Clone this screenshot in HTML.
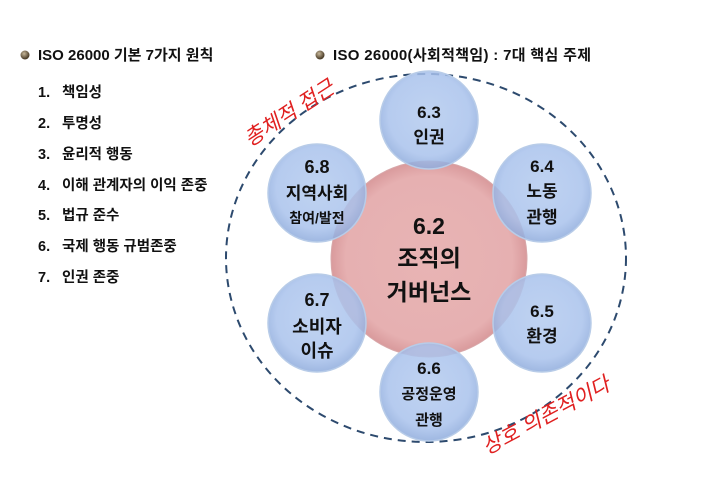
<!DOCTYPE html>
<html><head><meta charset="utf-8"><style>
body{margin:0;width:703px;height:485px;background:#fff;overflow:hidden;font-family:"Liberation Sans","Noto Sans CJK KR",sans-serif}
</style></head><body>
<svg width="703" height="485" xmlns="http://www.w3.org/2000/svg" font-family="Liberation Sans, Noto Sans CJK KR, sans-serif">
<defs>
<radialGradient id="b" cx="50%" cy="45%" r="55%"><stop offset="0" stop-color="#b4cbef"/><stop offset="0.75" stop-color="#a9c2ec"/><stop offset="1" stop-color="#8eabdc"/></radialGradient>
<radialGradient id="p" cx="50%" cy="50%" r="50%"><stop offset="0" stop-color="#e8b4b4"/><stop offset="0.85" stop-color="#e6b0b1"/><stop offset="1" stop-color="#d99a9c"/></radialGradient>
<radialGradient id="dot" cx="40%" cy="35%" r="60%"><stop offset="0" stop-color="#c8b89a"/><stop offset="1" stop-color="#4a3c28"/></radialGradient>
</defs>
<circle cx="25" cy="55" r="4.5" fill="url(#dot)"/>
<text x="38" y="60" font-size="15" font-weight="bold" fill="#111">ISO 26000 기본 7가지 원칙</text>
<circle cx="320" cy="55" r="4.5" fill="url(#dot)"/>
<text x="333" y="60" font-size="15" font-weight="bold" fill="#111" textLength="258">ISO 26000(사회적책임) : 7대 핵심 주제</text>
<g font-size="14.5" font-weight="bold" fill="#111">
<text x="38" y="97">1.</text><text x="62" y="97">책임성</text>
<text x="38" y="128">2.</text><text x="62" y="128">투명성</text>
<text x="38" y="159">3.</text><text x="62" y="159">윤리적 행동</text>
<text x="38" y="190">4.</text><text x="62" y="190">이해 관계자의 이익 존중</text>
<text x="38" y="220">5.</text><text x="62" y="220">법규 준수</text>
<text x="38" y="251">6.</text><text x="62" y="251">국제 행동 규범존중</text>
<text x="38" y="282">7.</text><text x="62" y="282">인권 존중</text>
</g>
<ellipse cx="426" cy="258" rx="200" ry="184" fill="none" stroke="#2d4a6e" stroke-width="2" stroke-dasharray="8,6"/>
<circle cx="429" cy="259" r="98" fill="url(#p)" stroke="#d8a8aa" stroke-width="1"/>
<g fill="url(#b)" fill-opacity="0.85" stroke="#b8cce8" stroke-width="1.5">
<circle cx="429" cy="120" r="49"/>
<circle cx="542" cy="193" r="49"/>
<circle cx="542" cy="323" r="49"/>
<circle cx="429" cy="392" r="49"/>
<circle cx="317" cy="323" r="49"/>
<circle cx="317" cy="193" r="49"/>
</g>
<g font-weight="bold" fill="#111" text-anchor="middle">
<text x="429" y="234" font-size="23">6.2</text>
<text x="429" y="266" font-size="23">조직의</text>
<text x="429" y="300" font-size="23">거버넌스</text>
<text x="429" y="118" font-size="17">6.3</text><text x="429" y="143" font-size="17">인권</text>
<text x="542" y="172" font-size="17">6.4</text><text x="542" y="197" font-size="17">노동</text><text x="542" y="223" font-size="17">관행</text>
<text x="542" y="317" font-size="17">6.5</text><text x="542" y="342" font-size="17">환경</text>
<text x="429" y="374" font-size="17">6.6</text><text x="429" y="399" font-size="15">공정운영</text><text x="429" y="425" font-size="15">관행</text>
<text x="317" y="306" font-size="18">6.7</text><text x="317" y="333" font-size="18">소비자</text><text x="317" y="357" font-size="18">이슈</text>
<text x="317" y="173" font-size="18">6.8</text><text x="317" y="199" font-size="17">지역사회</text><text x="317" y="223" font-size="14">참여/발전</text>
</g>
<g fill="#e02020" font-size="21" font-style="italic">
<text transform="translate(250,147) rotate(-33)">총체적 접근</text>
<text transform="translate(487,455) rotate(-28)">상호 의존적이다</text>
</g>
</svg>
</body></html>
